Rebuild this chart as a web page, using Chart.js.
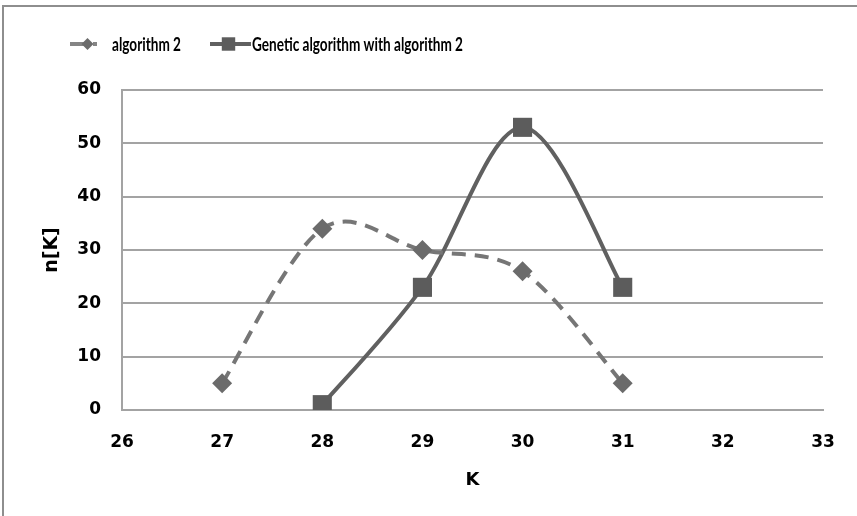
<!DOCTYPE html>
<html>
<head>
<meta charset="utf-8">
<script src="https://cdn.jsdelivr.net/npm/chart.js@4.4.1/dist/chart.umd.min.js"></script>
<style>
  html, body { margin: 0; padding: 0; background: #fff; }
  #wrap { width: 857px; height: 516px; position: relative; }
</style>
</head>
<body>
<div id="wrap"><canvas id="myChart" width="857" height="516"></canvas></div>
<script>
// K values and n[K] counts for both runs
var algK = [27, 28, 29, 30, 31];
var algN = [5, 34, 30, 26, 5];
var genK = [28, 29, 30, 31];
var genN = [1, 23, 53, 23];
var seriesNames = ['algorithm 2', 'Genetic algorithm with algorithm 2'];

var xMin = 26, xMax = 33;
var yMin = 0, yMax = 60, yStep = 10;

function toPoints(xs, ys) {
  return xs.map(function(x, i) { return {x: x, y: ys[i]}; });
}

var gridColor = '#a3a3a3';

// frame lines along top and left edge of the canvas
var framePlugin = {
  id: 'frame',
  beforeDraw: function(chart) {
    var c = chart.ctx;
    c.save();
    c.strokeStyle = '#8e8e8e';
    c.lineWidth = 2;
    c.beginPath();
    c.moveTo(3, chart.height);
    c.lineTo(3, 6);
    c.lineTo(chart.width, 6);
    c.stroke();
    c.restore();
  }
};

// uniform Catmull-Rom control points (instead of distance weighted ones)
var smoothPlugin = {
  id: 'smooth',
  beforeDatasetDraw: function(chart, args) {
    var meta = args.meta;
    meta.dataset.updateControlPoints(chart.chartArea);
    var pts = meta.data;
    var n = pts.length;
    for (var i = 0; i < n; i++) {
      var p = pts[i];
      var prev = pts[Math.max(i - 1, 0)];
      var next = pts[Math.min(i + 1, n - 1)];
      var dx = (next.x - prev.x) / 6;
      var dy = (next.y - prev.y) / 6;
      p.cp1x = p.x - dx;
      p.cp1y = p.y - dy;
      p.cp2x = p.x + dx;
      p.cp2y = p.y + dy;
    }
  }
};

// legend drawn as line samples with markers, like the series
var legendPlugin = {
  id: 'lineLegend',
  afterDraw: function(chart) {
    var c = chart.ctx;
    var y = 44;
    var items = [
      {x0: 70, x1: 97, px: 87.5, r: 6, tx: 112, color: '#858585'},
      {x0: 210, x1: 251, px: 228.5, r: 9.5, tx: 252, color: '#606060'}
    ];
    c.save();
    c.font = 'bold 18px Lato, "Open Sans", sans-serif';
    // narrow the text a bit, the legend font is a condensed one
    var squeeze = 211 / c.measureText(seriesNames[1]).width;
    items.forEach(function(it, i) {
      var ds = chart.data.datasets[i];
      c.strokeStyle = it.color;
      c.lineWidth = 4;
      c.setLineDash(ds.borderDash || []);
      c.beginPath();
      c.moveTo(it.x0, y);
      c.lineTo(it.x1, y);
      c.stroke();
      c.setLineDash([]);
      c.fillStyle = ds.pointBackgroundColor;
      Chart.helpers.drawPoint(c, {pointStyle: ds.pointStyle, radius: it.r, borderWidth: 0, rotation: 0}, it.px, y);
      c.save();
      c.translate(it.tx, y + 1);
      c.scale(squeeze, 1);
      c.fillStyle = '#000';
      c.textBaseline = 'middle';
      c.textAlign = 'left';
      c.fillText(seriesNames[i], 0, 0);
      c.restore();
    });
    c.restore();
  }
};

var ctx = document.getElementById('myChart').getContext('2d');
var chart = new Chart(ctx, {
  type: 'line',
  data: {
    datasets: [{
      label: seriesNames[0],
      data: toPoints(algK, algN),
      borderColor: '#767676',
      borderWidth: 4,
      borderDash: [14, 9],
      tension: 0.4,
      pointStyle: 'rectRot',
      pointRadius: 10,
      pointBorderWidth: 0,
      pointBackgroundColor: '#6b6b6b',
      fill: false
    }, {
      label: seriesNames[1],
      data: toPoints(genK, genN),
      borderColor: '#606060',
      borderWidth: 4,
      tension: 0.4,
      pointStyle: 'rect',
      pointRadius: 13.5,
      pointBorderWidth: 0,
      pointBackgroundColor: '#5c5c5c',
      fill: false
    }]
  },
  options: {
    responsive: false,
    animation: false,
    events: [],
    layout: { padding: { top: 90, right: 34, bottom: 0, left: 0 } },
    plugins: {
      legend: { display: false },
      tooltip: { enabled: false }
    },
    scales: {
      x: {
        type: 'linear',
        min: xMin,
        max: xMax,
        ticks: {
          stepSize: 1,
          padding: 22,
          color: '#000',
          font: { family: 'DejaVu Sans', weight: 'bold', size: 17 }
        },
        grid: { display: false, drawTicks: false },
        border: { display: true, color: gridColor, width: 2 },
        title: {
          display: true,
          text: 'K',
          color: '#000',
          font: { family: 'DejaVu Sans', weight: 'bold', size: 18 },
          padding: { top: 0, bottom: 25 }
        },
        afterFit: function(scale) { scale.height = 106; }
      },
      y: {
        min: yMin,
        max: yMax,
        ticks: {
          stepSize: yStep,
          padding: 21,
          color: '#000',
          font: { family: 'DejaVu Sans', weight: 'bold', size: 17 }
        },
        grid: { color: gridColor, lineWidth: 2, drawTicks: false },
        border: { display: true, color: gridColor, width: 2 },
        title: {
          display: true,
          text: 'n[K]',
          color: '#000',
          font: { family: 'DejaVu Sans', weight: 'bold', size: 19 },
          padding: { top: 41, bottom: 0 }
        },
        afterFit: function(scale) { scale.width = 122; }
      }
    }
  },
  plugins: [framePlugin, smoothPlugin, legendPlugin]
});
</script>
</body>
</html>
